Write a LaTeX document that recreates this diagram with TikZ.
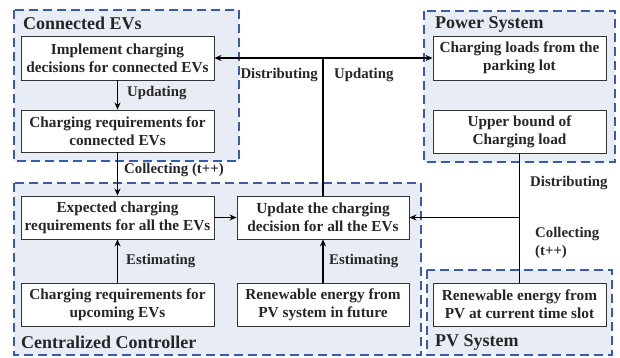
\documentclass[tikz,border=0pt]{standalone}
\usepackage{fontspec}
\setmainfont{Liberation Serif}[BoldFont={Liberation Serif Bold}]
\usetikzlibrary{arrows.meta}
\definecolor{grpfill}{HTML}{E8ECF5}
\definecolor{grpline}{HTML}{3A5BAA}
\definecolor{boxline}{HTML}{333333}
\tikzset{
  group/.style={draw=grpline, fill=grpfill, line width=1.4pt, dash pattern=on 9pt off 5pt},
  grptitle/.style={anchor=west, inner sep=0pt, font=\fontsize{18}{20}\selectfont\bfseries, text=black!85},
  box/.style={draw=boxline, fill=white, line width=0.9pt, align=center, inner sep=1pt,
    font=\fontsize{15.3}{18}\selectfont\bfseries, text=black!85},
  lbl/.style={inner sep=0pt, font=\fontsize{14.8}{18}\selectfont\bfseries, text=black!85, align=left},
  conn/.style={line width=1.3pt},
  arr/.style={conn, -{Stealth[length=7pt,width=6pt]}}
}
\begin{document}
\begin{tikzpicture}[x=1pt,y=-1pt]
\useasboundingbox (0,0) rectangle (620,357);
% groups
\draw[group] (14,10) rectangle (239,161);
\draw[group] (424,11) rectangle (615,162);
\draw[group] (14,183) rectangle (421,355);
\draw[group] (427,270) rectangle (612,355);
\node[grptitle] (tev) at (23,23) {Connected EVs};
\node[grptitle] (tps) at (435,24) {Power System};
\node[grptitle] (tcc) at (21,342) {Centralized Controller};
\node[grptitle] (tpv) at (435,342) {PV System};
% boxes
\node[box, minimum width=193pt, minimum height=44pt] (impl) at (117.5,58) {Implement charging\\decisions for connected EVs};
\node[box, minimum width=193pt, minimum height=42pt] (creq) at (117.5,131) {Charging requirements for\\connected EVs};
\node[box, minimum width=173pt, minimum height=44pt] (load) at (519.5,58) {Charging loads from the\\parking lot};
\node[box, minimum width=173pt, minimum height=43pt] (ub) at (519.5,131.5) {Upper bound of\\Charging load};
\node[box, minimum width=193pt, minimum height=43pt] (exp) at (117.5,217.5) {Expected charging\\requirements for all the EVs};
\node[box, minimum width=172pt, minimum height=43pt] (upd) at (323,217.5) {Update the charging\\decision for all the EVs};
\node[box, minimum width=193pt, minimum height=43pt] (upc) at (117.5,304.5) {Charging requirements for\\upcoming EVs};
\node[box, minimum width=172pt, minimum height=43pt] (ren) at (323,304.5) {Renewable energy from\\PV system in future};
\node[box, minimum width=173pt, minimum height=43pt] (pv) at (519.5,304.5) {Renewable energy from\\PV at current time slot};
% connectors
\draw[arr] (impl) -- (creq);
\draw[arr] (creq) -- (exp);
\draw[arr] (upc) -- (exp);
\draw[arr] (exp) -- (upd);
\draw[arr] (ren) -- (upd);
\coordinate (j1) at (323,58);
\draw[conn] (upd.north) -- (j1);
\draw[arr] (j1) -- (impl.east);
\draw[arr] (j1) -- (load.west);
\coordinate (j2) at (519.5,217.5);
\draw[conn] (ub.south) -- (pv.north);
\draw[arr] (j2) -- (upd.east);
% labels
\node[lbl, anchor=west] (l1) at (127,93) {Updating};
\node[lbl, anchor=west] (l2) at (124,170) {Collecting (t++)};
\node[lbl, anchor=west] (l3) at (126,261) {Estimating};
\node[lbl, anchor=west] (l4) at (329,261) {Estimating};
\node[lbl, anchor=east] (l5) at (318,75) {Distributing};
\node[lbl, anchor=west] (l6) at (334,75) {Updating};
\node[lbl, anchor=west] (l7) at (530,183) {Distributing};
\node[lbl, anchor=west] (l8) at (535,243) {Collecting\\(t++)};
\end{tikzpicture}
\end{document}
